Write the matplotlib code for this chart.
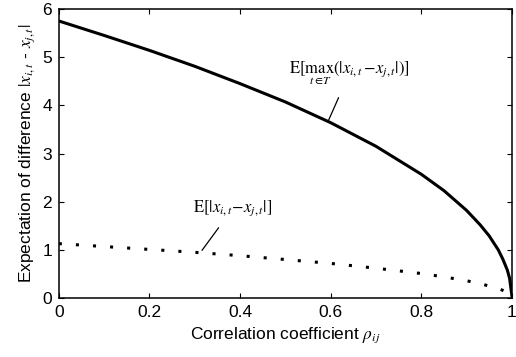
import matplotlib
matplotlib.use("Agg")
import matplotlib.pyplot as plt

# values
rho = [0, 0.1, 0.2, 0.3, 0.4, 0.5, 0.6, 0.7, 0.8, 0.85, 0.9, 0.93, 0.95,
       0.97, 0.98, 0.99, 0.995, 1.0]
e_max = [5.75, 5.45, 5.14, 4.81, 4.45, 4.07, 3.64, 3.15, 2.57, 2.23, 1.82,
         1.52, 1.29, 1.0, 0.81, 0.58, 0.41, 0.05]
e_abs = [1.13, 1.07, 1.01, 0.95, 0.88, 0.80, 0.72, 0.62, 0.51, 0.44, 0.36,
         0.30, 0.25, 0.20, 0.16, 0.11, 0.08, 0.01]

x_ticks = [0, 0.2, 0.4, 0.6, 0.8, 1]
x_tick_labels = ["0", "0.2", "0.4", "0.6", "0.8", "1"]
y_ticks = [0, 1, 2, 3, 4, 5, 6]


def main():
    plt.rcParams["font.family"] = ["Liberation Sans", "DejaVu Sans"]
    plt.rcParams["mathtext.fontset"] = "stix"

    fig = plt.figure(figsize=(5.16, 3.57), dpi=100)
    ax = fig.add_axes([0.114, 0.165, 0.878, 0.81])

    ax.plot(rho, e_max, color="black", linewidth=2.2)
    ax.plot(rho, e_abs, color="black", linewidth=2.2,
            linestyle=(0, (1, 4.6)), dash_capstyle="butt")

    ax.set_xlim(0, 1)
    ax.set_ylim(0, 6)
    ax.set_xticks(x_ticks)
    ax.set_xticklabels(x_tick_labels)
    ax.set_yticks(y_ticks)
    ax.tick_params(direction="in", top=True, right=True, length=3.5,
                   width=0.8, labelsize=12.5, pad=5)
    for s in ax.spines.values():
        s.set_linewidth(1.1)

    ax.set_xlabel(r"Correlation coefficient $\rho_{ij}$", fontsize=12.5)
    ax.set_ylabel(r"Expectation of difference $|x_{i,t}$ - $x_{j,t}|$",
                  fontsize=12.5)

    ax.annotate(r"$\mathrm{E}[\max_{t\,\in T}(|x_{i,t}\!-\!x_{j,t}|)]$",
                xy=(0.594, 3.66), xytext=(0.642, 4.68),
                ha="center", va="center", fontsize=12,
                arrowprops=dict(arrowstyle="-", color="black", lw=0.9,
                                shrinkA=7, shrinkB=0))
    ax.annotate(r"$\mathrm{E}[|x_{i,t}\!-\!x_{j,t}|]$",
                xy=(0.316, 0.99), xytext=(0.384, 1.86),
                ha="center", va="center", fontsize=12,
                arrowprops=dict(arrowstyle="-", color="black", lw=0.9,
                                shrinkA=6, shrinkB=0))

    fig.savefig("out.png", dpi=100)


main()
